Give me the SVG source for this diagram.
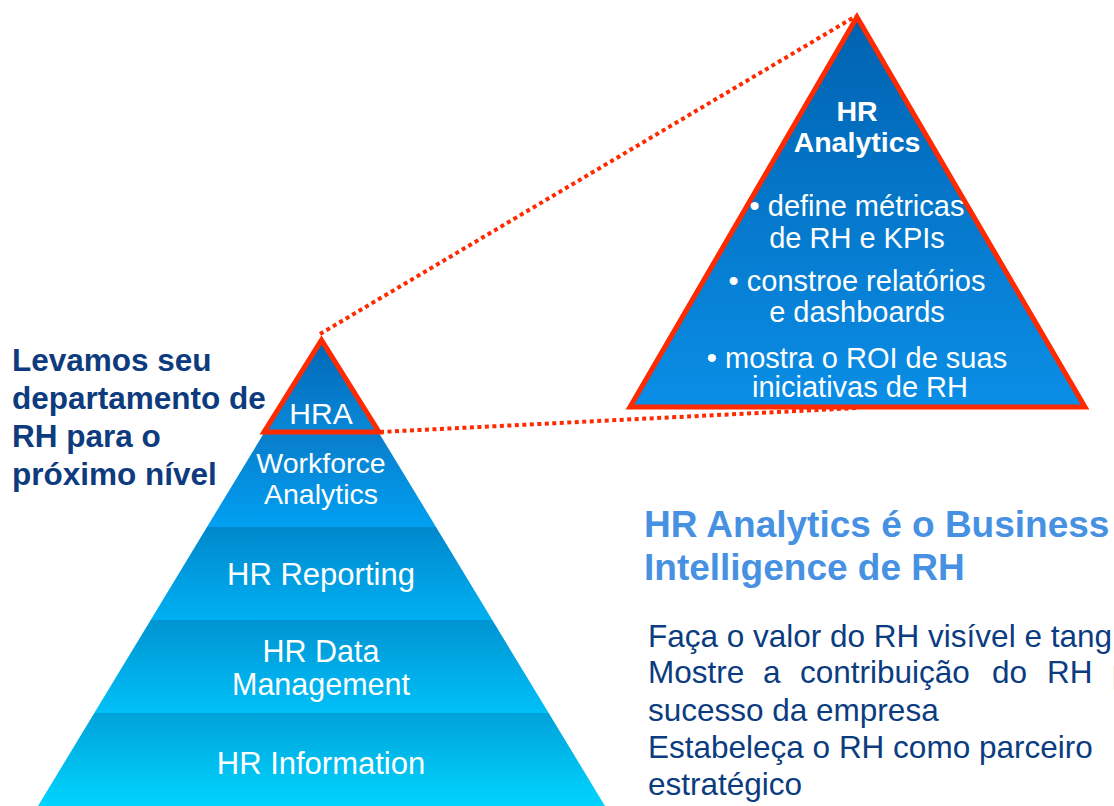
<svg xmlns="http://www.w3.org/2000/svg" width="1114" height="806" viewBox="0 0 1114 806">
  <defs>
    <linearGradient id="gHRA" x1="0" y1="0" x2="0" y2="1"><stop offset="0" stop-color="#0066b6"/><stop offset="1" stop-color="#0a88d8"/></linearGradient>
    <linearGradient id="gWA" x1="0" y1="0" x2="0" y2="1"><stop offset="0" stop-color="#0a7ccb"/><stop offset="1" stop-color="#00a0f2"/></linearGradient>
    <linearGradient id="gRep" x1="0" y1="0" x2="0" y2="1"><stop offset="0" stop-color="#0088cc"/><stop offset="1" stop-color="#00b0f2"/></linearGradient>
    <linearGradient id="gData" x1="0" y1="0" x2="0" y2="1"><stop offset="0" stop-color="#0094d2"/><stop offset="1" stop-color="#00c0f8"/></linearGradient>
    <linearGradient id="gInfo" x1="0" y1="0" x2="0" y2="1"><stop offset="0" stop-color="#00a2da"/><stop offset="1" stop-color="#00d4fe"/></linearGradient>
    <linearGradient id="gBig" x1="0" y1="0" x2="0" y2="1"><stop offset="0" stop-color="#0062b0"/><stop offset="1" stop-color="#0a8ee6"/></linearGradient>
  </defs>
  <style>
    .lbl { font-family: "Liberation Sans", Arial, sans-serif; fill: #ffffff; text-anchor: middle; }
    .red { fill: none; stroke: #ff2a00; stroke-width: 5; stroke-linejoin: miter; }
    .dot { fill: none; stroke: #ff2a00; stroke-width: 4; stroke-dasharray: 4 3.5; }
    .head { font-family: "Liberation Sans", Arial, sans-serif; font-weight: bold; fill: #0d3b7d; font-size: 31.5px; }
    .title { font-family: "Liberation Sans", Arial, sans-serif; font-weight: bold; fill: #4791e3; font-size: 37px; }
    .body { font-family: "Liberation Sans", Arial, sans-serif; fill: #0b3c80; font-size: 31.5px; }
  </style>

  <g id="connectors">
    <line class="dot" x1="320" y1="334" x2="856" y2="16"/>
    <line class="dot" x1="380" y1="432" x2="857" y2="408"/>
  </g>

  <g id="band-hr-information">
    <polygon points="94.3,713 548.7,713 605,806 38,806" fill="url(#gInfo)"/>
    <text class="lbl" x="321" y="774" font-size="31">HR Information</text>
  </g>
  <g id="band-hr-data-management">
    <polygon points="150.7,620 492.3,620 548.7,713 94.3,713" fill="url(#gData)"/>
    <text class="lbl" x="321" y="662" font-size="30.5">HR Data</text>
    <text class="lbl" x="321" y="695" font-size="30.5">Management</text>
  </g>
  <g id="band-hr-reporting">
    <polygon points="207,527 436,527 492.3,620 150.7,620" fill="url(#gRep)"/>
    <text class="lbl" x="321" y="585" font-size="31">HR Reporting</text>
  </g>
  <g id="band-workforce-analytics">
    <polygon points="264.6,432 378.4,432 436,527 207,527" fill="url(#gWA)"/>
    <text class="lbl" x="321" y="473" font-size="28.5">Workforce</text>
    <text class="lbl" x="321" y="504" font-size="28.5">Analytics</text>
  </g>
  <g id="band-hra">
    <polygon points="321.5,338 378.4,432 264.6,432" fill="url(#gHRA)"/>
    <polygon class="red" points="321.5,340 379,432 264,432"/>
    <text class="lbl" x="321" y="424" font-size="30">HRA</text>
  </g>

  <g id="hr-analytics-detail">
    <polygon points="857,17 1085,407 630,407" fill="url(#gBig)"/>
    <polygon class="red" points="857,17 1085,407 630,407"/>
    <text class="lbl" x="857" y="121" font-size="28.5" font-weight="bold">HR</text>
    <text class="lbl" x="857" y="152" font-size="28.5" font-weight="bold">Analytics</text>
    <text class="lbl" x="857" y="216" font-size="29">• define métricas</text>
    <text class="lbl" x="857" y="248" font-size="29">de RH e KPIs</text>
    <text class="lbl" x="857" y="291" font-size="29">• constroe relatórios</text>
    <text class="lbl" x="857" y="322" font-size="29">e dashboards</text>
    <text class="lbl" x="857" y="368" font-size="29">• mostra o ROI de suas</text>
    <text class="lbl" x="860" y="397" font-size="29">iniciativas de RH</text>
  </g>

  <g id="headline">
    <text class="head" x="12" y="371">Levamos seu</text>
    <text class="head" x="12" y="409">departamento de</text>
    <text class="head" x="12" y="447">RH para o</text>
    <text class="head" x="12" y="485">próximo nível</text>
  </g>

  <g id="title">
    <text class="title" x="644" y="537">HR Analytics é o Business</text>
    <text class="title" x="644" y="580">Intelligence de RH</text>
  </g>

  <g id="benefits">
    <text class="body" x="648" y="647">Faça o valor do RH visível e tangível</text>
    <text class="body" y="683"><tspan x="648">Mostre</tspan><tspan x="763">a</tspan><tspan x="800">contribuição</tspan><tspan x="992">do</tspan><tspan x="1047">RH</tspan><tspan x="1112">para o</tspan></text>
    <text class="body" x="648" y="721">sucesso da empresa</text>
    <text class="body" x="648" y="758">Estabeleça o RH como parceiro</text>
    <text class="body" x="648" y="795">estratégico</text>
  </g>
</svg>
